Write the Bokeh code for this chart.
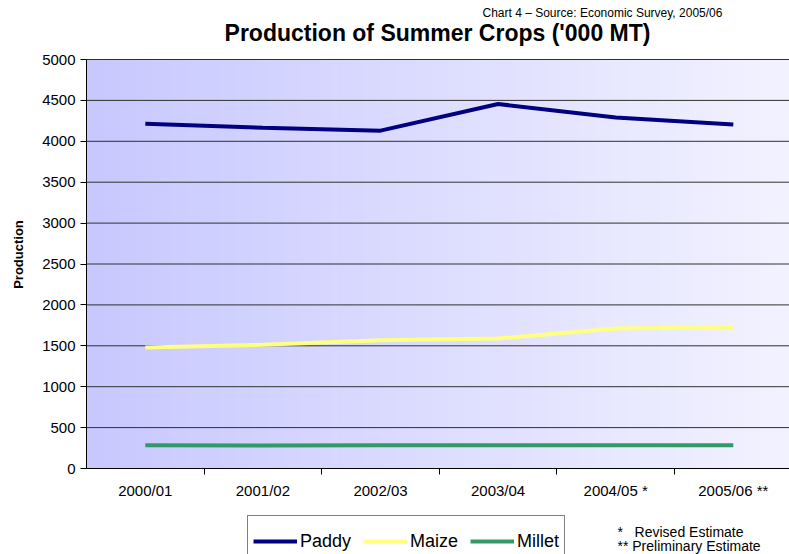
import numpy as np
from bokeh.plotting import figure
from bokeh.models import (Range1d, FixedTicker, Label, Legend, LegendItem)
from bokeh.embed import file_html
from bokeh.resources import INLINE

# ---- data ----
years = ["2000/01", "2001/02", "2002/03", "2003/04", "2004/05 *", "2005/06 **"]
paddy = [4216, 4165, 4130, 4456, 4290, 4205]
maize = [1478, 1512, 1567, 1588, 1712, 1727]
millet = [283, 281, 283, 283, 285, 283]
y_ticks = [0, 500, 1000, 1500, 2000, 2500, 3000, 3500, 4000, 4500, 5000]
y_max = 5000

FONT = "Liberation Sans"
W, H = 789, 554
# layout of the plotting area inside the canvas (pixels)
LEFT, TOP, BOTTOM = 86, 59, 468
CAT_PX = 117.6
n_cat = len(years)
x_pos = [i + 0.5 for i in range(n_cat)]

px_per_y = (BOTTOM - TOP) / y_max
x_range = Range1d(-LEFT / CAT_PX, (W - LEFT) / CAT_PX)
y_range = Range1d(-(H - BOTTOM) / px_per_y, y_max + TOP / px_per_y)

p = figure(width=W, height=H, output_backend="svg", toolbar_location=None, tools="",
           x_range=x_range, y_range=y_range, min_border=0,
           min_border_left=0, min_border_right=0, min_border_top=0, min_border_bottom=0)
p.outline_line_color = None
p.background_fill_color = "white"
p.border_fill_color = "white"
p.grid.grid_line_color = None

# gradient background of the plot area
n = 256
t = np.linspace(0, 1, n)
c0 = np.array([200, 200, 255]); c1 = np.array([243, 243, 255])
cols = (c0[None, :] * (1 - t[:, None]) + c1[None, :] * t[:, None]).astype(np.uint32)
img = np.empty((1, n), dtype=np.uint32)
view = img.view(dtype=np.uint8).reshape((1, n, 4))
view[0, :, 0] = cols[:, 0]; view[0, :, 1] = cols[:, 1]; view[0, :, 2] = cols[:, 2]; view[0, :, 3] = 255
p.image_rgba(image=[img], x=0, y=0, dw=n_cat, dh=y_max, level="image")

# horizontal gridlines at the y ticks
p.segment(x0=[0] * len(y_ticks), x1=[n_cat] * len(y_ticks), y0=y_ticks, y1=y_ticks,
          line_color="#303030", line_width=1)

# lines
r1 = p.line(x_pos, paddy, line_color="#000080", line_width=4)
r2 = p.line(x_pos, maize, line_color="#ffff80", line_width=4)
r3 = p.line(x_pos, millet, line_color="#339966", line_width=4)

# y axis at x = 0
yax = p.yaxis[0]
yax.fixed_location = 0
yax.bounds = (0, y_max)
yax.ticker = FixedTicker(ticks=y_ticks)
yax.major_tick_out = 6
yax.major_tick_in = 0
yax.minor_tick_out = 0
yax.minor_tick_in = 0
yax.major_label_standoff = 5
yax.major_label_text_font = FONT
yax.major_label_text_font_size = "15px"
yax.major_label_text_color = "black"
yax.axis_line_color = "black"
yax.major_tick_line_color = "black"

# x axis at y = 0: labels at category centres, ticks at category boundaries
xax = p.xaxis[0]
xax.fixed_location = 0
xax.bounds = (0, n_cat)
xax.ticker = FixedTicker(ticks=x_pos, minor_ticks=list(range(1, n_cat)))
xax.major_label_overrides = {x: lab for x, lab in zip(x_pos, years)}
xax.major_tick_out = 0
xax.major_tick_in = 0
xax.minor_tick_out = 6
xax.minor_tick_in = 0
xax.minor_tick_line_color = "black"
xax.major_label_standoff = 7
xax.major_label_text_font = FONT
xax.major_label_text_font_size = "15px"
xax.major_label_text_color = "black"
xax.axis_line_color = "black"

NB = "\u00a0"
# texts (screen units: x from left, y from bottom of the canvas)
p.add_layout(Label(x=437, y=H - 32, x_units="screen", y_units="screen",
                   text="Production of Summer Crops ('000 MT)", text_font=FONT,
                   text_font_style="bold", text_font_size="23px", text_align="center",
                   text_baseline="middle", text_color="black"))
p.add_layout(Label(x=482, y=H - 12, x_units="screen", y_units="screen",
                   text="Chart 4 \u2013 Source: Economic Survey, 2005/06", text_font=FONT,
                   text_font_size="12px", text_align="left", text_baseline="alphabetic",
                   text_color="black"))
p.add_layout(Label(x=18, y=H - 254, x_units="screen", y_units="screen", angle=np.pi / 2,
                   text="Production", text_font=FONT, text_font_style="bold",
                   text_font_size="13px", text_align="center", text_baseline="middle",
                   text_color="black"))
p.add_layout(Label(x=617, y=H - 531, x_units="screen", y_units="screen",
                   text="*" + NB * 3 + "Revised Estimate", text_font=FONT, text_font_size="14px",
                   text_align="left", text_baseline="alphabetic", text_color="black"))
p.add_layout(Label(x=617, y=H - 545, x_units="screen", y_units="screen",
                   text="**" + NB + "Preliminary Estimate", text_font=FONT, text_font_size="14px",
                   text_align="left", text_baseline="alphabetic", text_color="black"))

legend = Legend(items=[LegendItem(label="Paddy", renderers=[r1]),
                       LegendItem(label="Maize", renderers=[r2]),
                       LegendItem(label="Millet", renderers=[r3])],
                location=(247, -13), orientation="horizontal",
                label_text_font=FONT, label_text_font_size="18px", label_text_color="black",
                glyph_width=44, glyph_height=40, label_standoff=3, spacing=12,
                padding=5, margin=0, border_line_color="black", border_line_width=1,
                background_fill_color="white", background_fill_alpha=1.0)
p.add_layout(legend, "center")

open("out.html", "w").write(file_html(p, INLINE))
